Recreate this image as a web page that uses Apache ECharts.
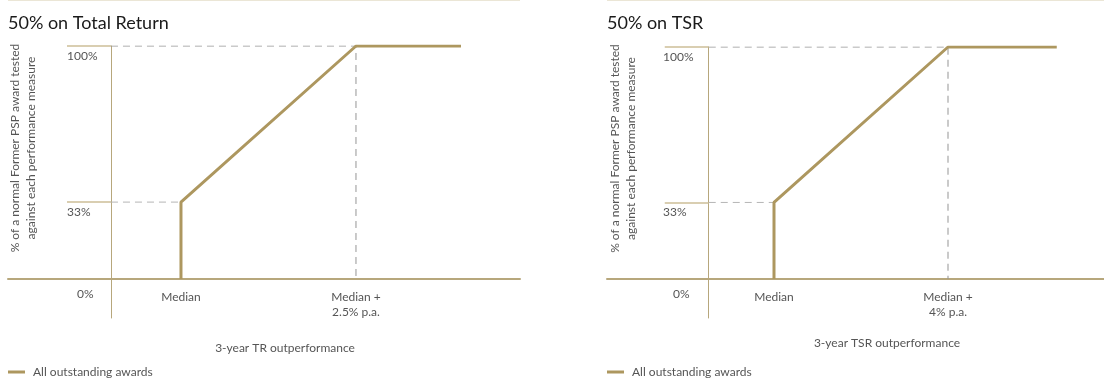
<!DOCTYPE html>
<html>
<head>
<meta charset="utf-8">
<script src="https://cdn.jsdelivr.net/npm/echarts@6/dist/echarts.min.js"></script>
<style>
html,body{margin:0;padding:0;background:#fff;}
#c{width:1104px;height:378px;}
</style>
</head>
<body>
<div id="c"></div>
<script>
// ---- data ----
const titles = ['50% on Total Return', '50% on TSR'];
const xAxisNames = ['3-year TR outperformance', '3-year TSR outperformance'];
const yAxisName = '% of a normal Former PSP award tested\nagainst each performance measure';
const seriesName = 'All outstanding awards';
// x positions (vertical axis at 0): median, median + target, end of cap line
const medianX = [1, 1.5];
const targetX = [3.5, 5.5];
const endX = [5, 8];
const tickLabelsX = [['Median', 'Median +\n2.5% p.a.'], ['Median', 'Median +\n4% p.a.']];
const yTicks = [0, 33, 100];
const yTickLabels = ['0%', '33%', '100%'];
const vestThreshold = 33;   // % vesting at median
const vestMax = 100;        // % vesting at target
const xMin = [-1.471, -2.339];
const xMax = [5.843, 9.086];
const yMin = [-16.74, -16.81];

const gold = '#ad975f';
const axisGold = '#b7a77c';
const tickGold = '#cdbf98';
const textGrey = '#555555';
const font = 'Lato, "Open Sans", sans-serif';

const grids = [
  {left: 8, right: 584, top: 46, bottom: 60, containLabel: false, outerBoundsMode: 'none'},
  {left: 607, right: 0, top: 47, bottom: 60, containLabel: false, outerBoundsMode: 'none'}
];

const option = {
  animation: false,
  textStyle: {fontFamily: font},
  title: titles.map((t, i) => ({
    text: t, left: i === 0 ? 8 : 607, top: 14, padding: 0,
    textStyle: {fontFamily: font, fontSize: 18, fontWeight: 'normal', color: '#1a1a1a'}
  })),
  legend: [0, 1].map(i => ({
    data: [seriesName], left: i === 0 ? 8 : 607, top: 366, padding: 0,
    icon: 'rect', itemWidth: 17, itemHeight: 3, selectedMode: false,
    textStyle: {fontFamily: font, fontSize: 12, color: textGrey, padding: [0, 0, 0, 3]}
  })),
  graphic: [
    {type: 'rect', shape: {x: 8, y: 0, width: 512, height: 1}, style: {fill: '#ebe6d6'}},
    {type: 'rect', shape: {x: 607, y: 0, width: 497, height: 1}, style: {fill: '#ebe6d6'}}
  ],
  grid: grids,
  xAxis: [0, 1].map(i => ({
    type: 'value', gridIndex: i, min: xMin[i], max: xMax[i],
    axisLine: {show: true, onZero: true, lineStyle: {color: axisGold, width: 2}},
    axisTick: {show: false},
    splitLine: {show: false},
    axisLabel: {
      show: true, customValues: [medianX[i], targetX[i]], margin: -28,
      color: textGrey, fontSize: 12, lineHeight: 15, fontFamily: font,
      formatter: v => (v === medianX[i] ? tickLabelsX[i][0] : tickLabelsX[i][1])
    },
    name: xAxisNames[i], nameLocation: 'middle', nameGap: i === 0 ? 24 : 19,
    nameTextStyle: {color: textGrey, fontSize: 12, fontFamily: font,
      padding: i === 0 ? [0, 0, 0, 42] : [0, 0, 0, 63]}
  })),
  yAxis: [0, 1].map(i => ({
    type: 'value', gridIndex: i, min: yMin[i], max: 100,
    axisLine: {show: true, onZero: true, lineStyle: {color: axisGold, width: 1}},
    axisTick: {show: true, customValues: [vestThreshold, vestMax], length: 44, inside: false,
      lineStyle: {color: tickGold, width: 1.5}},
    splitLine: {show: false},
    axisLabel: {
      show: true, customValues: yTicks, margin: i === 0 ? -59 : -56, align: 'left', verticalAlign: 'top',
      color: textGrey, fontSize: 12, fontFamily: font,
      formatter: v => {
        const s = yTickLabels[yTicks.indexOf(v)];
        return v === 0 ? '{z|' + s + '}' : '{n|' + s + '}';
      },
      rich: {
        z: {color: textGrey, fontSize: 12, fontFamily: font, padding: [9, 0, 0, 10]},
        n: {color: textGrey, fontSize: 12, fontFamily: font, padding: [4, 0, 0, 0]}
      }
    },
    name: yAxisName, nameLocation: 'middle', nameGap: i === 0 ? -31 : -32, nameRotate: 90,
    nameTextStyle: {color: textGrey, fontSize: 12, fontFamily: font, lineHeight: 16,
      padding: [0, 0, 0, 68]}
  })),
  series: []
};

[0, 1].forEach(i => {
  option.series.push({
    type: 'line', name: 'guide', xAxisIndex: i, yAxisIndex: i, silent: true,
    symbol: 'none', lineStyle: {color: '#959595', width: 1, type: [7, 5]},
    data: [[0, vestMax], [targetX[i], vestMax], [targetX[i], 0]], z: 1
  });
  option.series.push({
    type: 'line', name: 'guide', xAxisIndex: i, yAxisIndex: i, silent: true,
    symbol: 'none', lineStyle: {color: '#b5b5b5', width: 1, type: [7, 5]},
    data: [[0, vestThreshold], [medianX[i], vestThreshold]], z: 1
  });
  option.series.push({
    type: 'line', name: seriesName, xAxisIndex: i, yAxisIndex: i,
    symbol: 'none', color: gold, lineStyle: {color: gold, width: 3}, z: 3,
    data: [[medianX[i], 0], [medianX[i], vestThreshold], [targetX[i], vestMax], [endX[i], vestMax]]
  });
});

const chart = echarts.init(document.getElementById('c'), null, {renderer: 'canvas'});
chart.setOption(option);
</script>
</body>
</html>
